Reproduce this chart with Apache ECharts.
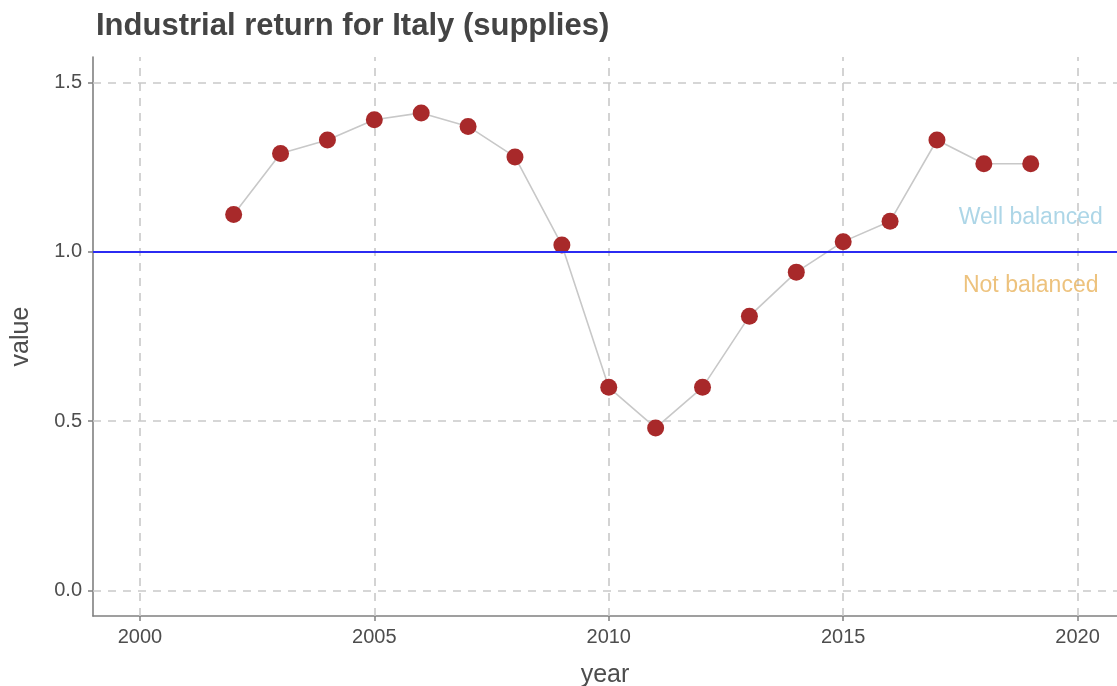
<!DOCTYPE html>
<html>
<head>
<meta charset="utf-8">
<script src="https://cdn.jsdelivr.net/npm/echarts@6/dist/echarts.min.js"></script>
<style>
html,body{margin:0;padding:0;background:#fff;}
#chart{width:1117px;height:686px;}
</style>
</head>
<body>
<div id="chart"></div>
<script>
const years = [2002,2003,2004,2005,2006,2007,2008,2009,2010,2011,2012,2013,2014,2015,2016,2017,2018,2019];
const values = [1.11,1.29,1.33,1.39,1.41,1.37,1.28,1.02,0.60,0.48,0.60,0.81,0.94,1.03,1.09,1.33,1.26,1.26];
const xTicks = [2000,2005,2010,2015,2020];
const yTicks = [0.0,0.5,1.0,1.5];
const refValue = 1.0;
const annotations = [
  {x: 2019, y: 1.1, text: 'Well balanced', color: '#98cce1'},
  {x: 2019, y: 0.9, text: 'Not balanced', color: '#e9b35c'}
];

const FONT = '"Liberation Sans", Arial, sans-serif';
const chart = echarts.init(document.getElementById('chart'), null, {renderer: 'canvas'});
const gridLine = {color: '#c9c9c9', width: 1.6, type: [8, 7]};

chart.setOption({
  backgroundColor: '#ffffff',
  animation: false,
  textStyle: {fontFamily: FONT},
  title: {
    text: 'Industrial return for Italy (supplies)',
    left: 91, top: 6,
    textStyle: {fontFamily: FONT, fontSize: 31, fontWeight: 'bold', color: '#444444'}
  },
  grid: {left: 93, right: 0, top: 57, bottom: 70, containLabel: false, outerBoundsMode: 'none'},
  xAxis: {
    type: 'value', min: 1999, max: 2020.84,
    name: 'year', nameLocation: 'middle', nameGap: 47,
    nameTextStyle: {fontFamily: FONT, fontSize: 25, color: '#4d4d4d'},
    axisLine: {show: true, onZero: false, lineStyle: {color: '#808080', width: 1.6}},
    axisTick: {show: true, length: 5, customValues: xTicks, lineStyle: {color: '#808080', width: 1.5}},
    axisLabel: {customValues: xTicks, fontFamily: FONT, fontSize: 20, color: '#4d4d4d', margin: 11,
      formatter: v => String(v)},
    splitLine: {show: false}
  },
  yAxis: {
    type: 'value', min: -0.075, max: 1.575,
    name: 'value', nameLocation: 'middle', nameGap: 59,
    nameTextStyle: {fontFamily: FONT, fontSize: 25, color: '#4d4d4d'},
    axisLine: {show: true, onZero: false, lineStyle: {color: '#808080', width: 1.6}},
    axisTick: {show: true, length: 5, customValues: yTicks, lineStyle: {color: '#808080', width: 1.5}},
    axisLabel: {customValues: yTicks, fontFamily: FONT, fontSize: 20, color: '#4d4d4d', margin: 11,
      formatter: v => v.toFixed(1)},
    splitLine: {show: false}
  },
  series: [
    {
      type: 'line', data: [], silent: true, z: 1,
      markLine: {
        z: 1,
        silent: true, symbol: ['none', 'none'], animation: false,
        label: {show: false},
        lineStyle: gridLine,
        data: xTicks.map(v => ({xAxis: v})).concat(yTicks.map(v => ({yAxis: v})))
      }
    },
    {
      type: 'line', z: 3,
      data: years.map((y, i) => [y, values[i]]),
      lineStyle: {color: '#c8c8c8', width: 1.6},
      symbol: 'circle', symbolSize: 17,
      itemStyle: {color: '#a8292a', borderWidth: 0},
      emphasis: {disabled: true}
    },
    {
      type: 'line', data: [], silent: true, z: 6,
      markLine: {
        z: 6,
        silent: true, symbol: ['none', 'none'], animation: false,
        label: {show: false},
        lineStyle: {color: '#2b2bf2', width: 2, type: 'solid'},
        data: [{yAxis: refValue}]
      }
    },
    {
      type: 'scatter', z: 7, silent: true,
      data: annotations.map(a => ({value: [a.x, a.y], label: {color: a.color, formatter: a.text}})),
      symbolSize: 1, itemStyle: {color: 'rgba(0,0,0,0)'},
      label: {show: true, position: 'inside', fontFamily: FONT, fontSize: 23}
    }
  ]
});
</script>
</body>
</html>
